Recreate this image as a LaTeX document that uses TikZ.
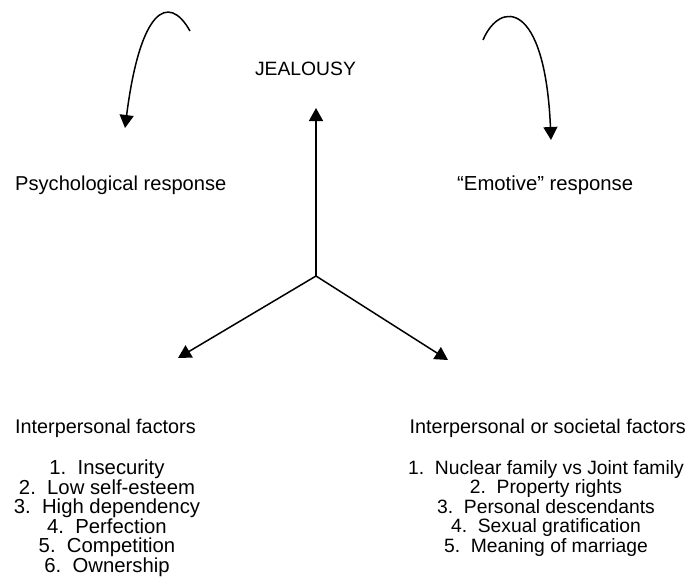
\documentclass[tikz,border=0pt]{standalone}
\usepackage{fontspec}
\setmainfont{Liberation Sans}
\usetikzlibrary{arrows.meta}
\begin{document}
\begin{tikzpicture}[x=1pt,y=-1pt,
  lbl/.style={inner sep=0pt,font=\fontsize{19.8}{19.5}\selectfont},
  lst/.style={inner sep=0pt,align=center},
  conn/.style={line width=1.5pt,-{Triangle[width=14pt,length=13pt]}}]
\useasboundingbox (0,0) rectangle (692,576);
\node[lbl,font=\fontsize{19.3}{19.5}\selectfont] (jeal) at (305.5,69) {JEALOUSY};
\node[lbl,font=\fontsize{20.1}{19.5}\selectfont,anchor=west] (psy) at (15,185) {Psychological response};
\node[lbl,font=\fontsize{20.3}{19.5}\selectfont,anchor=west] (emo) at (457,185) {“Emotive” response};
\node[lbl,anchor=west] (ipf) at (15,428) {Interpersonal factors};
\node[lbl,anchor=east] (isf) at (686,428) {Interpersonal or societal factors};
\node[lst,font=\fontsize{20.3}{19.5}\selectfont,anchor=north] (l1) at (107,460) {1.\ \ Insecurity\\2.\ \ Low self-esteem\\3.\ \ High dependency\\4.\ \ Perfection\\5.\ \ Competition\\6.\ \ Ownership};
\node[lst,font=\fontsize{19.3}{19.5}\selectfont,anchor=north] (l2) at (546,460) {1.\ \ Nuclear family vs Joint family\\2.\ \ Property rights\\3.\ \ Personal descendants\\4.\ \ Sexual gratification\\5.\ \ Meaning of marriage};
\coordinate (c) at (316,276);
\coordinate (up) at (316,108);
\coordinate (lt) at (178,358);
\coordinate (rt) at (448,360);
\coordinate (ls) at (190,31);
\coordinate (le) at (125,128);
\coordinate (rs) at (483,40);
\coordinate (re) at (551,140);
\draw[conn] (c) -- (up);
\draw[conn] (c) -- (lt);
\draw[conn] (c) -- (rt);
\draw[conn] (ls) .. controls (168,-8) and (140,10) .. (le);
\draw[conn] (rs) .. controls (500,0) and (545,0) .. (re);
\end{tikzpicture}
\end{document}
